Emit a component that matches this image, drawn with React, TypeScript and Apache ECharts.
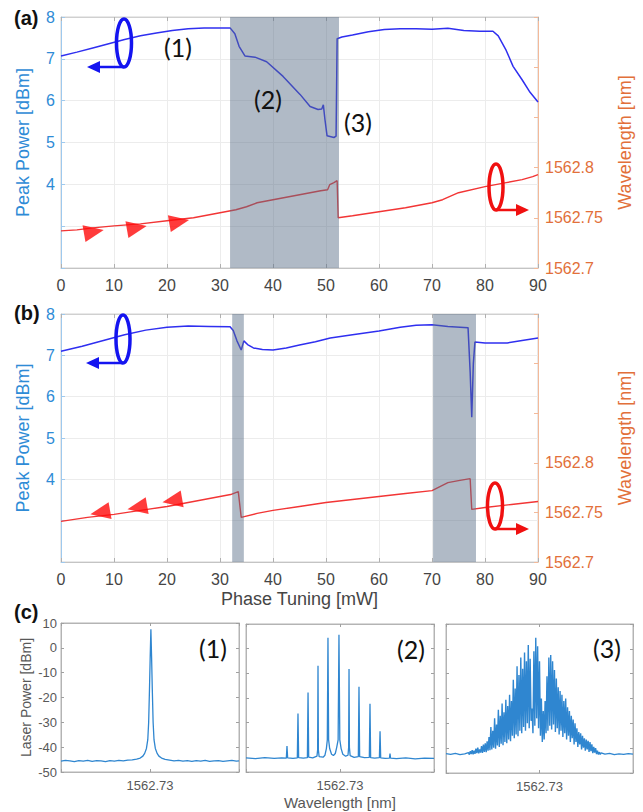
import React, { useEffect, useRef } from "react";
import * as echarts from "echarts";

// ---------- data ----------
const phaseMin = 0;
const phaseMax = 90;
const powerTickLabels = [4, 5, 6, 7, 8];
const wavelengthTickLabels = ["1562.7", "1562.75", "1562.8"];
const spectrumTickLabel = "1562.73";

const shadeA: [number, number][] = [[31.9, 52.45]];
const shadeB: [number, number][] = [[32.3, 34.5], [70.2, 78.3]];

const powerA: [number, number][] = [
  [0, 7.07], [3, 7.16], [6, 7.26], [9, 7.36], [12, 7.46], [15, 7.55], [18, 7.62], [21, 7.68],
  [24, 7.72], [27, 7.74], [30, 7.74], [31.9, 7.74], [32.8, 7.6], [33.6, 7.3], [34.7, 7.07],
  [36.6, 7.04], [38.8, 6.93], [41.9, 6.58], [45.1, 6.15], [47, 5.86], [48.5, 5.79], [49.2, 5.8],
  [49.5, 5.9], [49.8, 5.55], [50.2, 5.16], [51.5, 5.12], [51.9, 5.15], [52.1, 7.48], [53, 7.52],
  [55, 7.57], [58, 7.65], [61, 7.7], [64, 7.72], [67, 7.72], [70, 7.71], [73, 7.73], [76, 7.68],
  [79, 7.66], [81.5, 7.66], [82.5, 7.55], [84, 7.2], [85.3, 6.82], [87, 6.5], [88.5, 6.2], [90, 5.97],
];

const wavelengthA: [number, number][] = [
  [0, 1562.737], [3, 1562.738], [6, 1562.74], [10, 1562.742], [15, 1562.744], [20, 1562.747],
  [25, 1562.75], [30, 1562.755], [33, 1562.758], [35, 1562.761], [37, 1562.765], [40, 1562.768],
  [43, 1562.771], [46, 1562.774], [49, 1562.777], [50.3, 1562.778], [50.7, 1562.783],
  [51.5, 1562.785], [52.1, 1562.787], [52.3, 1562.75], [55, 1562.752], [60, 1562.756],
  [65, 1562.76], [68, 1562.763], [70, 1562.765], [72, 1562.768], [75, 1562.775], [80, 1562.781],
  [84, 1562.785], [87, 1562.788], [89, 1562.791], [90, 1562.793],
];

const arrowsA: [number, number][] = [[6.2, 1562.736], [14.3, 1562.74], [22.3, 1562.746]];

const powerB: [number, number][] = [
  [0, 7.1], [4, 7.22], [8, 7.36], [12, 7.5], [16, 7.61], [20, 7.68], [24, 7.71], [28, 7.7],
  [31.9, 7.69], [32.5, 7.6], [33.2, 7.35], [34, 7.13], [34.5, 7.35], [35.2, 7.26], [36.3, 7.18],
  [38, 7.14], [40, 7.13], [42.5, 7.18], [45, 7.25], [48, 7.33], [50.8, 7.42], [55, 7.5],
  [60, 7.59], [64, 7.68], [67, 7.73], [70, 7.74], [73, 7.7], [76.8, 7.67], [77.2, 6.6],
  [77.5, 5.5], [77.8, 6.8], [78.1, 7.32], [80, 7.3], [84.2, 7.3], [87, 7.36], [90, 7.42],
];

const wavelengthB: [number, number][] = [
  [0, 1562.741], [5, 1562.745], [10, 1562.748], [15, 1562.752], [20, 1562.756], [25, 1562.761],
  [30, 1562.766], [32, 1562.768], [33.45, 1562.771], [34.0, 1562.745], [37, 1562.749],
  [40, 1562.752], [45, 1562.756], [50, 1562.76], [55, 1562.763], [60, 1562.766], [65, 1562.769],
  [70, 1562.772], [71.5, 1562.776], [73, 1562.78], [75, 1562.782], [77.2, 1562.784],
  [77.5, 1562.753], [80, 1562.755], [85, 1562.758], [90, 1562.761],
];

const arrowsB: [number, number][] = [[7.4, 1562.75], [14.4, 1562.755], [21, 1562.762]];

const spectrum1: [number, number][] = [
  [-1, -45.6], [-0.95, -45.3], [-0.9, -45.5], [-0.85, -45.8], [-0.8, -45.4], [-0.75, -45.6],
  [-0.7, -45.3], [-0.65, -45.7], [-0.6, -45.4], [-0.55, -45.5], [-0.5, -45.8], [-0.45, -45.4],
  [-0.4, -45.6], [-0.35, -45.3], [-0.3, -45.5], [-0.25, -45.2], [-0.2, -45.1], [-0.15, -44.8],
  [-0.11, -44.4], [-0.08, -43.6], [-0.06, -42.5], [-0.04, -40.5], [-0.025, -37], [-0.015, -30],
  [-0.006, -17], [0.002, -4], [0.01, 7.5], [0.018, -4], [0.026, -17], [0.035, -30], [0.045, -37],
  [0.06, -40.5], [0.08, -42.5], [0.1, -43.6], [0.13, -44.4], [0.17, -44.9], [0.22, -45.2],
  [0.27, -45.5], [0.32, -45.3], [0.37, -45.6], [0.42, -45.4], [0.47, -45.7], [0.52, -45.4],
  [0.57, -45.6], [0.62, -45.3], [0.67, -45.7], [0.72, -45.5], [0.77, -45.4], [0.82, -45.7],
  [0.87, -45.5], [0.92, -45.3], [0.97, -45.6], [1, -45.5],
];

const spectrum2: [number, number][] = [
  [-1, -44.3], [-0.9, -44.6], [-0.8, -44.2], [-0.7, -44.5], [-0.62, -44.3],
  [-0.571, -44.4], [-0.564, -39.5], [-0.557, -44.3], [-0.5, -44.5],
  [-0.454, -44.3], [-0.447, -26.3], [-0.44, -44.2], [-0.39, -44.4],
  [-0.347, -44.2], [-0.34, -17.8], [-0.333, -44.0], [-0.29, -44.3],
  [-0.245, -43.6], [-0.238, -41], [-0.234, -6.9], [-0.23, -41], [-0.222, -43.8],
  [-0.18, -44.0], [-0.16, -43.2], [-0.145, -40.5], [-0.135, -37], [-0.128, 4.4], [-0.121, -37],
  [-0.11, -40.5], [-0.09, -42.8], [-0.07, -43.3], [-0.05, -42.5], [-0.035, -40], [-0.02, -37],
  [-0.011, 5.6], [-0.002, -37], [0.012, -40.5], [0.03, -42.8], [0.06, -43.6],
  [0.085, -43.2], [0.092, -40], [0.096, -8.2], [0.1, -40], [0.108, -43.4], [0.15, -44.1],
  [0.195, -43.8], [0.202, -15.4], [0.209, -43.8], [0.26, -44.2],
  [0.312, -44.1], [0.319, -22.3], [0.326, -44.2], [0.37, -44.4],
  [0.419, -44.2], [0.426, -33.5], [0.433, -44.3], [0.48, -44.5],
  [0.526, -44.4], [0.532, -42.5], [0.538, -44.4],
  [0.6, -44.6], [0.7, -44.3], [0.8, -44.7], [0.9, -44.4], [1, -44.5],
];

const spectrum3Left: [number, number][] = [
  [-1, -42.2], [-0.95, -42.5], [-0.9, -42.1], [-0.85, -42.6], [-0.8, -42.3],
];
const spectrum3CoreStart = -0.76;
const spectrum3CoreStep = 0.01;
const spectrum3Core: number[] = [
  -41.8, -42.6, -41.2, -42.4, -40.8, -42.5, -41.0, -42.3, -40.2, -42.0,
  -39.8, -42.1, -40.5, -41.8, -39.2, -41.9, -38.6, -41.5, -38.0, -41.6,
  -37.2, -41.0, -35.5, -40.8, -31.5, -40.5, -33.0, -39.8, -28.0, -40.2,
  -30.5, -38.9, -24.5, -39.5, -27.0, -38.2, -22.0, -38.8, -25.5, -37.5,
  -20.5, -38.0, -23.0, -36.5, -18.5, -37.2, -21.0, -35.0, -12.5, -36.0,
  -16.0, -34.5, -7.0, -35.2, -10.5, -33.0, -3.5, -34.0, -8.0, -31.5,
  -1.5, -33.0, -5.0, -30.0, 1.5, -32.0, -4.0, -29.0, -24.0, -34.0,
  -1.0, -31.0, 4.5, -28.0, 1.0, -32.0, -5.0, -35.0, -20.0, -37.5,
  -25.0, -36.5, -21.0, -34.0, -11.0, -33.0, -3.5, -31.0, -2.5, -32.5,
  -5.0, -30.5, -8.5, -33.5, -12.0, -32.0, -15.5, -34.5, -17.0, -33.0,
  -18.5, -35.5, -21.0, -34.0, -20.0, -36.5, -23.5, -35.0, -25.0, -37.5,
  -27.0, -36.0, -28.5, -38.5, -30.0, -37.5, -32.0, -39.5, -33.5, -38.5,
  -34.0, -40.5, -35.0, -39.8, -36.0, -41.0, -36.5, -40.5, -37.0, -41.5,
  -37.5, -41.2, -38.5, -42.0, -39.5, -41.8, -40.0, -42.4, -41.0, -42.6,
  -41.6, -42.5, -41.9,
];
const spectrum3Right: [number, number][] = [
  [0.7, -42.4], [0.75, -42.1], [0.8, -42.6], [0.85, -42.3], [0.9, -42.5], [0.95, -42.2], [1, -42.4],
];

// ---------- styles ----------
const FONT = '"Liberation Sans", Arial, Helvetica, sans-serif';
const BLUE_TXT = "#2e8bd6";
const ORANGE_TXT = "#e2703a";
const GRAY_TXT = "#454545";
const C_TXT = "#585858";
const LINE_BLUE = "#2f2ff0";
const LINE_RED = "#f23535";
const SPEC_BLUE = "#2f86d0";
const SHADE = "rgba(88,108,134,0.47)";

const grids = [
  { left: 61, top: 17, width: 477, height: 251 },
  { left: 61, top: 314, width: 477, height: 248 },
  { left: 61, top: 623, width: 178, height: 149 },
  { left: 246, top: 624, width: 188, height: 148 },
  { left: 446, top: 624, width: 187, height: 149 },
];

function powerFmt(v: number) {
  const r = Math.round(v);
  return Math.abs(v - r) < 1e-9 && powerTickLabels.includes(r) ? String(r) : "";
}
function wlFmt(v: number) {
  const m = wavelengthTickLabels.find((s) => Math.abs(parseFloat(s) - v) < 1e-6);
  return m ?? "";
}
function specFmt(v: number) {
  return Math.abs(v) < 1e-9 ? spectrumTickLabel : "";
}

function phaseX(gridIndex: number, extra: any = {}) {
  return {
    type: "value",
    gridIndex,
    min: phaseMin,
    max: phaseMax,
    interval: 10,
    axisLine: { show: true, onZero: false, lineStyle: { color: "#c4c4c4", width: 1 } },
    axisTick: { show: true, inside: true, length: 4, lineStyle: { color: "#b0b0b0" } },
    axisLabel: { color: GRAY_TXT, fontSize: 16, fontFamily: FONT, margin: 9 },
    splitLine: { show: true, lineStyle: { color: "#ececec", width: 1 } },
    ...extra,
  };
}
function phaseXTop(gridIndex: number) {
  return {
    type: "value",
    gridIndex,
    position: "top",
    min: phaseMin,
    max: phaseMax,
    interval: 10,
    axisLine: { show: true, onZero: false, lineStyle: { color: "#d0d0d0" } },
    axisTick: { show: true, inside: true, length: 4, lineStyle: { color: "#b0b0b0" } },
    axisLabel: { show: false },
    splitLine: { show: false },
  };
}
function powerY(gridIndex: number) {
  return {
    type: "value",
    gridIndex,
    position: "left",
    min: 2,
    max: 8,
    interval: 1,
    name: "Peak Power [dBm]",
    nameLocation: "middle",
    nameGap: 29,
    nameTextStyle: { color: BLUE_TXT, fontSize: 18, fontFamily: FONT },
    axisLine: { show: true, onZero: false, lineStyle: { color: "#9ec9ee" } },
    axisTick: { show: true, inside: true, length: 4, lineStyle: { color: "#9ec9ee" } },
    axisLabel: { color: BLUE_TXT, fontSize: 16, fontFamily: FONT, margin: 6, formatter: powerFmt },
    splitLine: { show: true, lineStyle: { color: "#ececec" } },
  };
}
function wlY(gridIndex: number) {
  return {
    type: "value",
    gridIndex,
    position: "right",
    min: 1562.7,
    max: 1562.95,
    interval: 0.05,
    name: "Wavelength [nm]",
    nameLocation: "middle",
    nameGap: 78,
    nameTextStyle: { color: ORANGE_TXT, fontSize: 18, fontFamily: FONT },
    axisLine: { show: true, onZero: false, lineStyle: { color: "#f3b999" } },
    axisTick: { show: true, inside: true, length: 4, lineStyle: { color: "#f3b999" } },
    axisLabel: { color: ORANGE_TXT, fontSize: 16, fontFamily: FONT, margin: 7, formatter: wlFmt },
    splitLine: { show: false },
  };
}
function specX(gridIndex: number, extra: any = {}) {
  return {
    type: "value",
    gridIndex,
    min: -1,
    max: 1,
    interval: 1,
    axisLine: { show: true, onZero: false, lineStyle: { color: "#b4b4b4" } },
    axisTick: { show: true, inside: true, length: 3, lineStyle: { color: "#a0a0a0" } },
    axisLabel: { color: C_TXT, fontSize: 13, fontFamily: FONT, margin: 7, formatter: specFmt },
    splitLine: { show: false },
    ...extra,
  };
}
function specXTop(gridIndex: number) {
  return {
    type: "value",
    gridIndex,
    position: "top",
    min: -1,
    max: 1,
    interval: 1,
    axisLine: { show: true, onZero: false, lineStyle: { color: "#b4b4b4" } },
    axisTick: { show: true, inside: true, length: 3, lineStyle: { color: "#a0a0a0" } },
    axisLabel: { show: false },
    splitLine: { show: false },
  };
}
function specY(gridIndex: number, showLabels: boolean, position = "left", extra: any = {}) {
  return {
    type: "value",
    gridIndex,
    position,
    min: -50,
    max: 10,
    interval: 10,
    axisLine: { show: true, onZero: false, lineStyle: { color: "#b4b4b4" } },
    axisTick: { show: true, inside: true, length: 3, lineStyle: { color: "#a0a0a0" } },
    axisLabel: { show: showLabels, color: C_TXT, fontSize: 13, fontFamily: FONT, margin: 4 },
    splitLine: { show: false },
    ...extra,
  };
}

function shadeSeries(xAxisIndex: number, yAxisIndex: number, data: [number, number][]) {
  return {
    type: "custom",
    xAxisIndex,
    yAxisIndex,
    z: 10,
    silent: true,
    data,
    renderItem: (params: any, api: any) => {
      const x0 = api.coord([api.value(0), 5])[0];
      const x1 = api.coord([api.value(1), 5])[0];
      const cs = params.coordSys;
      return {
        type: "rect",
        shape: { x: x0, y: cs.y, width: x1 - x0, height: cs.height },
        style: { fill: SHADE },
      };
    },
  };
}

function lineSeries(xAxisIndex: number, yAxisIndex: number, data: any[], color: string, width: number) {
  return {
    type: "line",
    xAxisIndex,
    yAxisIndex,
    data,
    showSymbol: false,
    symbol: "none",
    lineStyle: { color, width },
    itemStyle: { color },
    z: 3,
  };
}

function arrowSeries(xAxisIndex: number, yAxisIndex: number, data: any[], rotate: number) {
  return {
    type: "scatter",
    xAxisIndex,
    yAxisIndex,
    data,
    symbol: "triangle",
    symbolSize: [17, 20],
    symbolRotate: rotate,
    itemStyle: { color: "#ff0a0a" },
    z: 5,
  };
}

function ellipseArrow(cx: number, cy: number, rx: number, ry: number, tipX: number, color: string) {
  const lineY = cy + ry;
  const dir = tipX < cx ? -1 : 1;
  const baseX = tipX - dir * 13;
  return [
    { type: "ellipse", shape: { cx, cy, rx, ry }, style: { fill: "none", stroke: color, lineWidth: 3.5 }, z: 100 },
    { type: "line", shape: { x1: cx, y1: lineY, x2: baseX, y2: lineY }, style: { stroke: color, lineWidth: 2.5 }, z: 100 },
    { type: "polygon", shape: { points: [[tipX, lineY], [baseX, lineY - 6], [baseX, lineY + 6]] }, style: { fill: color }, z: 100 },
  ];
}

function label(text: string, x: number, y: number, size = 25) {
  return {
    type: "text",
    x,
    y,
    z: 100,
    style: { text, fill: "#111", font: `${size}px Lato, "Open Sans", sans-serif`, textAlign: "center", textVerticalAlign: "middle" },
  };
}
function panelLabel(text: string, y: number) {
  return {
    type: "text",
    x: 14,
    y,
    z: 100,
    style: { text, fill: "#111", font: `bold 20px ${FONT}`, textAlign: "left", textVerticalAlign: "middle" },
  };
}

export default function App() {
  const ref = useRef<HTMLDivElement>(null);
  useEffect(() => {
    if (!ref.current) return;
    const chart = echarts.init(ref.current, undefined, { renderer: "svg" });

    const spectrum3: [number, number][] = [
      ...spectrum3Left,
      ...spectrum3Core.map((v, i) => [spectrum3CoreStart + i * spectrum3CoreStep, v] as [number, number]),
      ...spectrum3Right,
    ];

    const option: any = {
      animation: false,
      backgroundColor: "#ffffff",
      textStyle: { fontFamily: FONT },
      grid: grids.map((g, i) => ({
        ...g,
        show: true,
        borderColor: i < 2 ? "#d2d2d2" : "#b4b4b4",
        borderWidth: 1,
        backgroundColor: "transparent",
        containLabel: false,
      })),
      xAxis: [
        phaseX(0),
        phaseX(1, {
          name: "Phase Tuning [mW]",
          nameLocation: "middle",
          nameGap: 28,
          nameTextStyle: { color: GRAY_TXT, fontSize: 18, fontFamily: FONT },
        }),
        specX(2),
        specX(3, {
          name: "Wavelength [nm]",
          nameLocation: "middle",
          nameGap: 23,
          nameTextStyle: { color: C_TXT, fontSize: 15, fontFamily: FONT },
        }),
        specX(4),
        phaseXTop(0),
        phaseXTop(1),
        specXTop(2),
        specXTop(3),
        specXTop(4),
      ],
      yAxis: [
        powerY(0),
        wlY(0),
        powerY(1),
        wlY(1),
        specY(2, true, "left", {
          name: "Laser Power [dBm]",
          nameLocation: "middle",
          nameGap: 28,
          nameTextStyle: { color: C_TXT, fontSize: 14, fontFamily: FONT },
        }),
        specY(3, false),
        specY(4, false),
        specY(2, false, "right"),
        specY(3, false, "right"),
        specY(4, false, "right"),
      ],
      series: [
        lineSeries(0, 0, powerA, LINE_BLUE, 1.5),
        lineSeries(0, 1, wavelengthA, LINE_RED, 1.4),
        arrowSeries(0, 1, arrowsA, -80),
        shadeSeries(0, 0, shadeA),
        lineSeries(1, 2, powerB, LINE_BLUE, 1.5),
        lineSeries(1, 3, wavelengthB, LINE_RED, 1.4),
        arrowSeries(1, 3, arrowsB, 100),
        shadeSeries(1, 2, shadeB),
        lineSeries(2, 4, spectrum1, SPEC_BLUE, 1.3),
        lineSeries(3, 5, spectrum2, SPEC_BLUE, 1.3),
        lineSeries(4, 6, spectrum3, SPEC_BLUE, 1.4),
      ],
      graphic: [
        panelLabel("(a)", 18),
        panelLabel("(b)", 313),
        panelLabel("(c)", 612),
        ...ellipseArrow(124, 43, 7.5, 24, 87, "#1414f0"),
        ...ellipseArrow(123, 339, 7, 24, 86, "#1414f0"),
        ...ellipseArrow(496, 187, 7, 23, 529, "#f01010"),
        ...ellipseArrow(495, 506, 7.5, 23, 529, "#f01010"),
        label("(1)", 178, 47),
        label("(2)", 268, 99),
        label("(3)", 358, 122),
        label("(1)", 213, 648),
        label("(2)", 411, 649),
        label("(3)", 607, 648),
      ],
    };
    chart.setOption(option);
    return () => chart.dispose();
  }, []);
  return (
    <div
      ref={ref}
      style={{ position: "absolute", left: 0, top: 0, width: 643, height: 812, background: "#fff" }}
    />
  );
}
